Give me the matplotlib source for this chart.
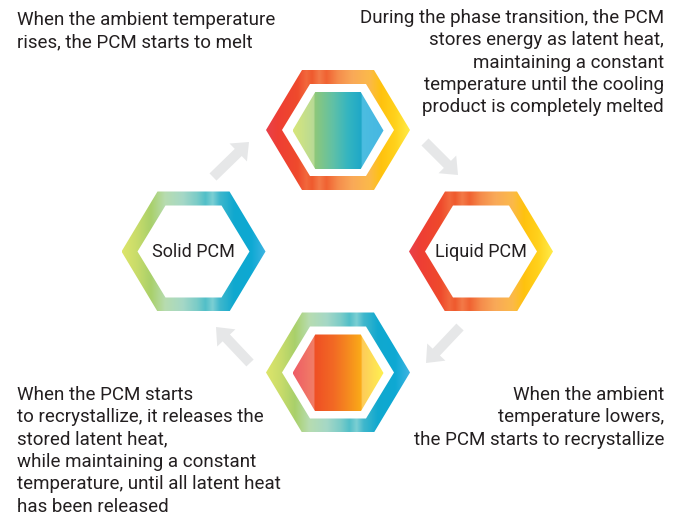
import numpy as np
import matplotlib.pyplot as plt
from matplotlib.path import Path
from matplotlib.patches import PathPatch, FancyArrow
from matplotlib.colors import LinearSegmentedColormap

plt.rcParams['font.family'] = ['Roboto', 'DejaVu Sans']

# texts of the diagram
node_labels = ["Solid PCM", "Liquid PCM"]
note_top_left = "When the ambient temperature\nrises, the PCM starts to melt"
note_top_right = ("During the phase transition, the PCM\nstores energy as latent heat,\n"
                  "maintaining a constant\ntemperature until the cooling\n"
                  "product is completely melted")
note_bottom_right = "When the ambient\ntemperature lowers,\nthe PCM starts to recrystallize"
note_bottom_left = ("When the PCM starts\nto recrystallize, it releases the\n"
                    "stored latent heat,\nwhile maintaining a constant\n"
                    "temperature, until all latent heat\nhas been released")

# colour stops (left -> right)
warm_ring = [(0.0, '#e8414c'), (0.08, '#ee3e34'), (0.22, '#ef4a2c'), (0.28, '#f2683c'),
             (0.32, '#ef5a2e'), (0.37, '#f37a48'), (0.42, '#f06232'), (0.5, '#f58c4c'),
             (0.6, '#f9a958'), (0.72, '#fbb94a'), (0.8, '#ffc20e'), (0.9, '#ffd21c'),
             (1.0, '#ffec4a')]
cool_ring = [(0.0, '#dde56a'), (0.1, '#c9dc6a'), (0.2, '#a9d06a'), (0.3, '#b7dcb0'),
             (0.42, '#a6d8c6'), (0.52, '#7cccc8'), (0.58, '#52bfc8'), (0.63, '#7ccfd3'),
             (0.68, '#3fb7cc'), (0.78, '#10a8cf'), (0.9, '#0ea9d3'), (1.0, '#40b4e2')]
cool_core = [(0.0, '#d8e67a'), (0.23, '#b8da96'), (0.24, '#8ec87a'), (0.45, '#5ec0a8'),
             (0.6, '#35b5c0'), (0.75, '#1fa8c8'), (0.76, '#4cbde0'), (1.0, '#46b7e3')]
warm_core = [(0.0, '#ee5c66'), (0.23, '#f17e66'), (0.24, '#ef4f24'), (0.45, '#f26a24'),
             (0.6, '#f5891f'), (0.75, '#fbab18'), (0.76, '#fdcb5a'), (1.0, '#fff250')]

W, H = 680, 516
fig = plt.figure(figsize=(6.8, 5.16), dpi=100)
ax = fig.add_axes([0, 0, 1, 1])


def hex_verts(cx, cy, r, hh):
    return [(cx - r, cy), (cx - r / 2, cy - hh), (cx + r / 2, cy - hh),
            (cx + r, cy), (cx + r / 2, cy + hh), (cx - r / 2, cy + hh)]


def hex_path(cx, cy, r, hh, hole=None):
    verts = hex_verts(cx, cy, r, hh) + [(cx, cy)]
    codes = [Path.MOVETO] + [Path.LINETO] * 5 + [Path.CLOSEPOLY]
    if hole:
        inner = hex_verts(cx, cy, *hole)[::-1]
        verts += inner + [(cx, cy)]
        codes += [Path.MOVETO] + [Path.LINETO] * 5 + [Path.CLOSEPOLY]
    return Path(verts, codes)


def grad_fill(path, x0, x1, stops):
    cmap = LinearSegmentedColormap.from_list('g', stops, N=512)
    ys = path.vertices[:, 1]
    img = ax.imshow(np.linspace(0, 1, 512)[None, :], cmap=cmap, aspect='auto',
                    extent=(x0, x1, ys.max(), ys.min()), interpolation='bilinear')
    patch = PathPatch(path, fc='none', ec='none')
    ax.add_patch(patch)
    img.set_clip_path(patch)


def ring(cx, cy, stops):
    r = 72
    grad_fill(hex_path(cx, cy, r, 60, hole=(56, 46)), cx - r, cx + r, stops)


def core(cx, cy, stops):
    r = 45.5
    grad_fill(hex_path(cx, cy, r, 38.5), cx - r, cx + r, stops)


ring(338, 130, warm_ring)
core(338, 130.5, cool_core)
ring(193.5, 251.5, cool_ring)
ring(481, 251.5, warm_ring)
ring(338, 372.5, cool_ring)
core(338, 373, warm_core)

ax.text(193.5, 252, node_labels[0], ha='center', va='center', fontsize=13, color='#231f20')
ax.text(481, 252, node_labels[1], ha='center', va='center', fontsize=13, color='#231f20')

# cycle arrows
arrows = [((213, 177), (249, 142)), ((425, 142), (458, 175)),
          ((460, 327), (426, 363)), ((250, 363), (216, 327))]
for (x0, y0), (x1, y1) in arrows:
    ax.add_patch(FancyArrow(x0, y0, x1 - x0, y1 - y0, width=10, head_width=25,
                            head_length=15, length_includes_head=True,
                            color='#e6e7e8', lw=0))

txt = dict(fontsize=13.5, color='#231f20', va='top', linespacing=1.31)
ax.text(17, 11, note_top_left, ha='left', **txt)
ax.text(664, 9, note_top_right, ha='right', multialignment='right', **txt)
ax.text(664, 386, note_bottom_right, ha='right', multialignment='right', **txt)
ax.text(17, 386, note_bottom_left, ha='left', **txt)

ax.set_xlim(0, W)
ax.set_ylim(H, 0)
ax.axis('off')
fig.savefig('out.png', dpi=100, facecolor='white')
